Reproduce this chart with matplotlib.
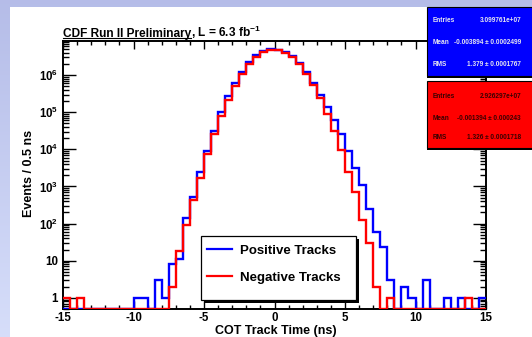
import numpy as np
import matplotlib
matplotlib.use('Agg')
import matplotlib.pyplot as plt
from matplotlib.patches import Rectangle
from matplotlib.lines import Line2D
from matplotlib.ticker import LogLocator, NullFormatter, MultipleLocator

W, H = 532, 337

plt.rcParams['font.family'] = ['Liberation Sans', 'DejaVu Sans']
plt.rcParams['font.weight'] = 'bold'
plt.rcParams['axes.labelweight'] = 'bold'
plt.rcParams['mathtext.fontset'] = 'custom'
plt.rcParams['mathtext.rm'] = 'Liberation Sans:bold'
plt.rcParams['mathtext.bf'] = 'Liberation Sans:bold'
plt.rcParams['mathtext.default'] = 'bf'
plt.rcParams['axes.unicode_minus'] = False

# COT track time, 0.5 ns bins from -15 to 15 ns
bin_edges = np.linspace(-15, 15, 61)
positive_tracks = [
    0, 0, 0, 0, 0, 0, 0, 0, 0, 0,
    1, 1, 0, 3, 1, 8, 11, 140, 520, 2400,
    9300, 31000, 1.0e5, 2.7e5, 6.3e5, 1.23e6, 2.2e6, 3.5e6, 4.45e6, 4.9e6,
    4.85e6, 4.25e6, 3.2e6, 2.15e6, 1.2e6, 6.3e5, 2.9e5, 1.4e5, 6.1e4, 2.6e4,
    9100, 3100, 1100, 250, 58, 24, 3, 0, 2, 1,
    0, 3, 0, 0, 1, 0, 1, 0, 0, 1,
]
negative_tracks = [
    1, 0, 1, 0, 0, 0, 0, 0, 0, 0,
    0, 0, 0, 0, 0, 2, 18, 93, 440, 1700,
    7600, 25700, 8.1e4, 2.2e5, 5.1e5, 1.05e6, 1.95e6, 3.1e6, 4.1e6, 4.75e6,
    4.75e6, 4.0e6, 3.0e6, 2.0e6, 1.05e6, 5.4e5, 2.4e5, 8.9e4, 3.2e4, 9700,
    2500, 690, 122, 30, 2, 0, 1, 0, 0, 0,
    0, 0, 0, 0, 0, 0, 0, 1, 0, 0,
]
track_labels = ['Positive Tracks', 'Negative Tracks']
stats_positive = [('Entries', '3.099761e+07'),
                  ('Mean', '-0.003894 \u00b1 0.0002499'),
                  ('RMS', '1.379 \u00b1 0.0001767')]
stats_negative = [('Entries', '2.926297e+07'),
                  ('Mean', '-0.001394 \u00b1 0.000243'),
                  ('RMS', '1.326 \u00b1 0.0001718')]
y_decades = [1, 10, 1e2, 1e3, 1e4, 1e5, 1e6]
y_decade_labels = ['1', '10', '$10^{2}$', '$10^{3}$', '$10^{4}$', '$10^{5}$', '$10^{6}$']
x_ticks = [-15, -10, -5, 0, 5, 10, 15]

YMIN, YMAX = 0.5, 8.3e6
BLUE = '#0000ff'
RED = '#ff0000'


def fx(x):
    return x / W


def fy(y):
    return 1 - y / H


fig = plt.figure(figsize=(W / 100, H / 100), dpi=100)

# canvas background: lavender gradient with a white pad
bg = fig.add_axes([0, 0, 1, 1], zorder=-10)
grad = np.linspace(0, 1, 256)[:, None]
c_top = np.array([0.71, 0.74, 0.91])
c_bot = np.array([0.84, 0.87, 0.98])
img = c_top + (c_bot - c_top) * grad[:, :, None]
bg.imshow(img, aspect='auto', extent=[0, 1, 0, 1], origin='upper')
bg.set_axis_off()
fig.patches.append(Rectangle((fx(10), 0), 1, fy(7), transform=fig.transFigure,
                             facecolor='white', edgecolor='none', zorder=-5))

ax = fig.add_axes([fx(63), fy(309), fx(486) - fx(63), fy(41) - fy(309)])
ax.set_yscale('log')

for vals, color in [(positive_tracks, BLUE), (negative_tracks, RED)]:
    v = np.maximum(np.array(vals, dtype=float), YMIN)
    ax.stairs(v, bin_edges, baseline=None, color=color, lw=1.7, zorder=3)

ax.set_xlim(-15, 15)
ax.set_ylim(YMIN, YMAX)

ax.set_xticks(x_ticks)
ax.set_xticklabels([str(t) for t in x_ticks])
ax.xaxis.set_minor_locator(MultipleLocator(1))
ax.set_yticks(y_decades)
ax.set_yticklabels(y_decade_labels)
ax.yaxis.set_minor_locator(LogLocator(base=10, subs=np.arange(2, 10), numticks=20))
ax.yaxis.set_minor_formatter(NullFormatter())

ax.tick_params(which='both', direction='in', top=True, right=True,
               width=1.0, labelsize=8.3, color='black')
ax.tick_params(axis='x', which='major', length=5.8, pad=2.0)
ax.tick_params(axis='x', which='minor', length=2.9)
ax.tick_params(axis='y', which='major', length=9.1, pad=3.6)
ax.tick_params(axis='y', which='minor', length=4.3)
for s in ax.spines.values():
    s.set_linewidth(1.4)

ax.set_xlabel('COT Track Time (ns)', fontsize=9, fontweight='bold', va='center')
ax.xaxis.set_label_coords((276 - 63) / 423, (309 - 331) / 268)
ax.set_ylabel('Events / 0.5 ns', fontsize=9, fontweight='bold', va='center')
ax.yaxis.set_label_coords((29 - 63) / 423, (309 - 173.5) / 268)

# legend frame with solid shadow
ax.add_patch(Rectangle((fx(204), fy(303)), fx(155), fy(236) - fy(300),
                       transform=fig.transFigure, facecolor='black',
                       edgecolor='none', zorder=4, clip_on=False))
ax.add_patch(Rectangle((fx(201), fy(300)), fx(155), fy(236) - fy(300),
                       transform=fig.transFigure, facecolor='white',
                       edgecolor='black', lw=0.9, zorder=4.1, clip_on=False))
handles = [Line2D([], [], color=BLUE, lw=1.6), Line2D([], [], color=RED, lw=1.6)]
fs_leg = 9.5
em = fs_leg * 100 / 72
leg = ax.legend(handles, track_labels, loc='upper left',
                bbox_to_anchor=(fx(207), fy(244.5)), bbox_transform=fig.transFigure,
                frameon=False, borderpad=0, borderaxespad=0, fontsize=fs_leg,
                handlelength=25 / em, handletextpad=8 / em, labelspacing=15 / em)
leg.set_zorder(5)

# title with underlined experiment tag
t1 = fig.text(fx(63), fy(37), 'CDF Run II Preliminary', fontsize=8.6, va='baseline')
fig.canvas.draw()
bb = t1.get_window_extent(fig.canvas.get_renderer())
fig.text(bb.x1 / W, fy(37), ', L = 6.3 fb$^{-1}$', fontsize=8.6, va='baseline')
fig.add_artist(Line2D([bb.x0 / W, bb.x1 / W], [fy(38.3), fy(38.3)],
                      transform=fig.transFigure, color='black', lw=0.8))


def stats_box(y0, y1, face, text_color, rows, row_y):
    fig.patches.append(Rectangle((fx(427), fy(y1 + 2)), 0.3, fy(y0) - fy(y1),
                                 transform=fig.transFigure, facecolor='black',
                                 edgecolor='none', zorder=5))
    fig.patches.append(Rectangle((fx(427), fy(y1)), 0.3, fy(y0) - fy(y1),
                                 transform=fig.transFigure, facecolor=face,
                                 edgecolor='black', lw=0.8, zorder=5.1))
    for (name, value), yy in zip(rows, row_y):
        fig.text(fx(433), fy(yy), name, fontsize=4.7, color=text_color,
                 va='center', ha='left', zorder=6)
        fig.text(fx(521), fy(yy), value, fontsize=4.7, color=text_color,
                 va='center', ha='right', zorder=6)


stats_box(7, 76, BLUE, '#e4e4f0', stats_positive, [20, 42.5, 64.5])
stats_box(81, 148, RED, '#3a0000', stats_negative, [96, 118, 138])

fig.savefig('out.png', dpi=100)
